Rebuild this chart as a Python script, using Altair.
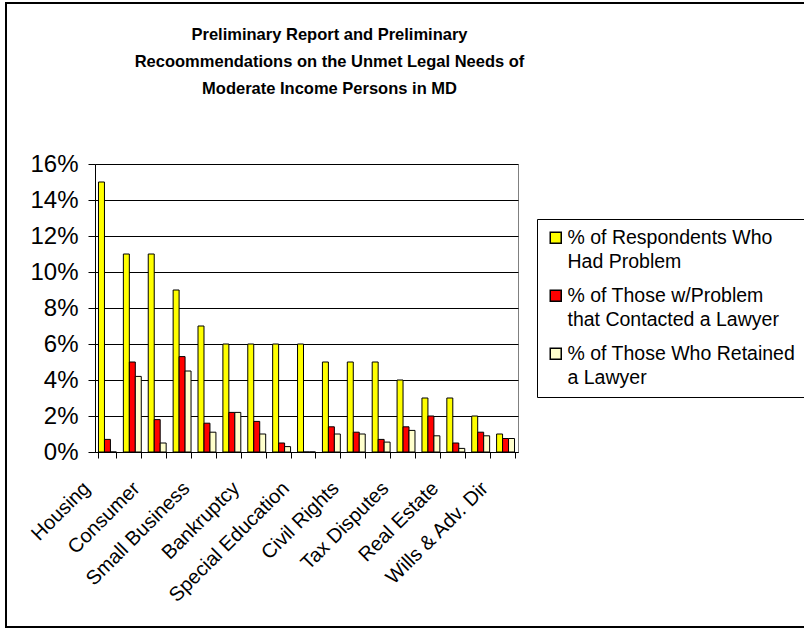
import json
import altair as alt
import pandas as pd

# ---- data ----
category_labels = ["Housing", "", "Consumer", "", "Small Business", "", "Bankruptcy", "",
                   "Special Education", "", "Civil Rights", "", "Tax Disputes", "",
                   "Real Estate", "", "Wills & Adv. Dir"]
series_lines = [["% of Respondents Who", "Had Problem"],
                ["% of Those w/Problem", "that Contacted a Lawyer"],
                ["% of Those Who Retained", "a Lawyer"]]
series_names = [" ".join(l) for l in series_lines]
series_colors = ["#FFFF00", "#FF0000", "#FFFFCC"]

had_problem = [15, 11, 11, 9, 7, 6, 6, 6, 6, 5, 5, 5, 4, 3, 3, 2, 1]
contacted = [0.7, 5.0, 1.8, 5.3, 1.6, 2.2, 1.7, 0.5, 0.0, 1.4, 1.1, 0.7, 1.4, 2.0, 0.5, 1.1, 0.75]
retained = [0.0, 4.2, 0.5, 4.5, 1.1, 2.2, 1.0, 0.3, 0.0, 1.0, 1.0, 0.55, 1.2, 0.9, 0.2, 0.9, 0.75]

y_ticks = [0, 0.02, 0.04, 0.06, 0.08, 0.10, 0.12, 0.14, 0.16]
title_lines = ["Preliminary Report and Preliminary",
               "Recoommendations on the Unmet Legal Needs of",
               "Moderate Income Persons in MD"]

rows = []
for i in range(len(category_labels)):
    for name, vals in zip(series_names, [had_problem, contacted, retained]):
        rows.append({"group": i, "series": name, "value": vals[i] / 100.0})
df = pd.DataFrame(rows)

FONT = "Liberation Sans"
label_js = json.dumps(category_labels)
x_label_expr = f"{label_js}[datum.value]"

legend_expr = ""
for name, lines in zip(series_names, series_lines):
    legend_expr += f"datum.label == {json.dumps(name)} ? {json.dumps(lines)} : "
legend_expr += "datum.label"

W, H = 423, 288
PL, PT = 95, 164

bars = alt.Chart(df).mark_bar(stroke="black", strokeWidth=1).encode(
    x=alt.X("group:O",
            scale=alt.Scale(paddingInner=0.28, paddingOuter=0.14),
            axis=alt.Axis(title=None, labelExpr=x_label_expr, labelAngle=-45,
                          labelAlign="right", labelBaseline="middle",
                          labelFontSize=20, labelFont=FONT, labelColor="black",
                          labelPadding=27, labelOffset=-21, tickBand="extent", tickSize=6,
                          tickColor="black", domainColor="black", labelLimit=400)),
    xOffset=alt.XOffset("series:N", sort=series_names,
                        scale=alt.Scale(domain=series_names, paddingInner=0, paddingOuter=0)),
    y=alt.Y("value:Q",
            scale=alt.Scale(domain=[0, 0.16], nice=False),
            axis=alt.Axis(title=None, format=".0%", values=y_ticks, grid=True,
                          gridColor="black", gridWidth=1, tickSize=7, tickColor="black",
                          domainColor="black", labelFontSize=24, labelFont=FONT,
                          labelColor="black", labelPadding=10)),
    color=alt.Color("series:N", sort=series_names,
                    scale=alt.Scale(domain=series_names, range=series_colors),
                    legend=alt.Legend(title=None, orient="none", legendX=442, legendY=55,
                                      strokeColor="black", fillColor="white", padding=9,
                                      symbolType="square", symbolSize=121,
                                      symbolStrokeColor="black", symbolStrokeWidth=1.5,
                                      labelExpr=legend_expr, labelFontSize=19.5,
                                      labelFont=FONT, labelColor="black", labelOffset=2,
                                      labelLimit=400, rowPadding=13)),
)

frame = alt.Chart(pd.DataFrame({"f": [0]})).mark_rect(
    filled=False, stroke="black", strokeWidth=2
).encode(
    x=alt.value(-89), x2=alt.value(720), y=alt.value(-161), y2=alt.value(463)
)

chart = alt.layer(frame, bars).properties(
    width=W, height=H,
    autosize=alt.AutoSizeParams(type="none"),
    padding={"left": PL, "top": PT, "right": 804 - PL - W, "bottom": 628 - PT - H},
    title=alt.TitleParams(text=title_lines, fontSize=16.5, fontWeight="bold", font=FONT,
                          color="black", anchor="middle", frame="group", dx=23,
                          lineHeight=27, offset=-95),
    background="white",
).configure(
    style={"guide-label": {"lineHeight": 24}}
).configure_view(stroke="#808080", strokeWidth=1)

chart.save("out.html", embed_options={"renderer": "svg", "actions": False})
